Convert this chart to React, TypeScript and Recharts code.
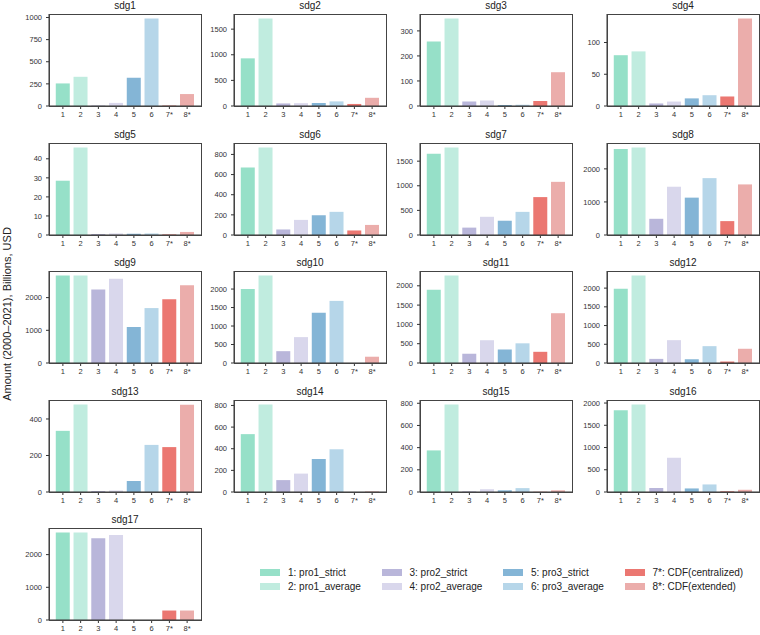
import React from "react";
import { BarChart, Bar, XAxis, YAxis, Cell } from "recharts";

// categories on the x axis
const CATEGORIES = ["1", "2", "3", "4", "5", "6", "7*", "8*"];

const LEGEND_LABELS = [
  "1: pro1_strict",
  "2: pro1_average",
  "3: pro2_strict",
  "4: pro2_average",
  "5: pro3_strict",
  "6: pro3_average",
  "7*: CDF(centralized)",
  "8*: CDF(extended)",
];

const COLORS = [
  "#96E0C8",
  "#C0ECDF",
  "#B9B6DA",
  "#D9D7EC",
  "#84B5D6",
  "#B6D6E9",
  "#EB7771",
  "#EBADAB",
];

const PANEL_TITLES = [
  "sdg1", "sdg2", "sdg3", "sdg4", "sdg5", "sdg6", "sdg7", "sdg8", "sdg9",
  "sdg10", "sdg11", "sdg12", "sdg13", "sdg14", "sdg15", "sdg16", "sdg17",
];

// values (billions USD), one array per sdg, order = categories
const sdg1 = [255, 330, 5, 35, 320, 990, 5, 135];
const sdg2 = [930, 1710, 50, 55, 60, 90, 40, 160];
const sdg3 = [258, 350, 18, 22, 4, 5, 20, 135];
const sdg4 = [80, 86, 4, 7, 12, 17, 15, 138];
const sdg5 = [28.5, 46, 0.5, 0.8, 0.7, 0.8, 0.3, 1.6];
const sdg6 = [670, 870, 55, 150, 195, 230, 45, 100];
const sdg7 = [1650, 1780, 150, 370, 290, 470, 770, 1080];
const sdg8 = [2600, 2650, 490, 1460, 1130, 1720, 420, 1530];
const sdg9 = [2680, 2680, 2250, 2580, 1100, 1680, 1950, 2380];
const sdg10 = [2000, 2370, 320, 700, 1360, 1680, 0, 170];
const sdg11 = [1900, 2270, 240, 590, 350, 510, 290, 1290];
const sdg12 = [1980, 2340, 110, 610, 100, 450, 40, 380];
const sdg13 = [335, 480, 5, 8, 60, 258, 246, 478];
const sdg14 = [535, 810, 110, 170, 305, 395, 0, 5];
const sdg15 = [375, 790, 5, 25, 15, 35, 2, 15];
const sdg16 = [1840, 1970, 90, 770, 80, 170, 15, 50];
const sdg17 = [2680, 2680, 2500, 2600, 0, 0, 290, 290];

const PANEL_VALUES = [
  sdg1, sdg2, sdg3, sdg4, sdg5, sdg6, sdg7, sdg8, sdg9,
  sdg10, sdg11, sdg12, sdg13, sdg14, sdg15, sdg16, sdg17,
];

// y tick labels per panel
const PANEL_TICKS = [
  [0, 250, 500, 750, 1000],
  [0, 500, 1000, 1500],
  [0, 100, 200, 300],
  [0, 50, 100],
  [0, 10, 20, 30, 40],
  [0, 200, 400, 600, 800],
  [0, 500, 1000, 1500],
  [0, 1000, 2000],
  [0, 1000, 2000],
  [0, 500, 1000, 1500, 2000],
  [0, 500, 1000, 1500, 2000],
  [0, 500, 1000, 1500, 2000],
  [0, 200, 400],
  [0, 200, 400, 600, 800],
  [0, 200, 400, 600, 800],
  [0, 500, 1000, 1500, 2000],
  [0, 1000, 2000],
];

// grid geometry (plot area of each panel)
const COL_LEFT = [49, 234, 420, 607];
const ROW_TOP = [14, 143, 271, 400, 528];
const PLOT_W = 152;
const PLOT_H = 92;
const Y_W = 40;
const TOP_PAD = 6;
const X_H = 20;
const FONT = "'Liberation Sans', Arial, sans-serif";
const INK = "#333";

function Panel({ title, values, ticks, x, y }) {
  const data = CATEGORIES.map((c, i) => ({ name: c, value: values[i] }));
  const max = Math.max(...values);
  return (
    <div style={{ position: "absolute", left: x - Y_W, top: y - TOP_PAD }}>
      <BarChart
        width={Y_W + PLOT_W}
        height={TOP_PAD + PLOT_H + X_H}
        data={data}
        margin={{ top: TOP_PAD, right: 0, bottom: 0, left: 0 }}
        barCategoryGap="10%"
      >
        <XAxis
          dataKey="name"
          height={X_H}
          interval={0}
          padding={{ left: 5, right: 5 }}
          tickSize={3}
          tickMargin={3}
          tick={{ fontSize: 7.5, fill: INK, fontFamily: FONT }}
          tickLine={{ stroke: INK }}
          axisLine={{ stroke: INK }}
        />
        <YAxis
          width={Y_W}
          type="number"
          domain={[0, max * 1.05]}
          ticks={ticks}
          interval={0}
          tickSize={3}
          tickMargin={4}
          tick={{ fontSize: 7.5, fill: INK, fontFamily: FONT }}
          tickLine={{ stroke: INK }}
          axisLine={{ stroke: INK }}
        />
        <Bar dataKey="value" isAnimationActive={false}>
          {data.map((d, i) => (
            <Cell key={d.name} fill={COLORS[i]} />
          ))}
        </Bar>
      </BarChart>
      <div
        style={{
          position: "absolute",
          left: Y_W,
          top: TOP_PAD,
          width: PLOT_W + 1,
          height: PLOT_H + 1,
          border: "1px solid #444",
          boxSizing: "border-box",
          pointerEvents: "none",
        }}
      />
      <div
        style={{
          position: "absolute",
          left: Y_W,
          width: PLOT_W,
          top: TOP_PAD - 14,
          lineHeight: "12px",
          textAlign: "center",
          fontSize: 10,
          color: "#222",
          fontFamily: FONT,
        }}
      >
        {title}
      </div>
    </div>
  );
}

export default function App() {
  return (
    <div
      style={{
        position: "absolute",
        left: 0,
        top: 0,
        width: 760,
        height: 635,
        background: "#fff",
        fontFamily: FONT,
        overflow: "hidden",
      }}
    >
      {PANEL_TITLES.map((t, i) => (
        <Panel
          key={t}
          title={t}
          values={PANEL_VALUES[i]}
          ticks={PANEL_TICKS[i]}
          x={COL_LEFT[i % 4]}
          y={ROW_TOP[Math.floor(i / 4)]}
        />
      ))}
      <div
        style={{
          position: "absolute",
          left: 7,
          top: 314,
          transform: "translate(-50%, -50%) rotate(-90deg)",
          whiteSpace: "nowrap",
          fontSize: 11,
          color: "#222",
        }}
      >
        Amount (2000–2021), Billions, USD
      </div>
      {LEGEND_LABELS.map((label, i) => (
        <div
          key={label}
          style={{
            position: "absolute",
            left: 260 + Math.floor(i / 2) * 121.5,
            top: 566 + (i % 2) * 14,
            height: 12,
            display: "flex",
            alignItems: "center",
            whiteSpace: "nowrap",
            fontSize: 10,
            color: "#222",
          }}
        >
          <span
            style={{
              display: "inline-block",
              width: 20,
              height: 7,
              background: COLORS[i],
              marginRight: 8,
            }}
          />
          {label}
        </div>
      ))}
    </div>
  );
}
